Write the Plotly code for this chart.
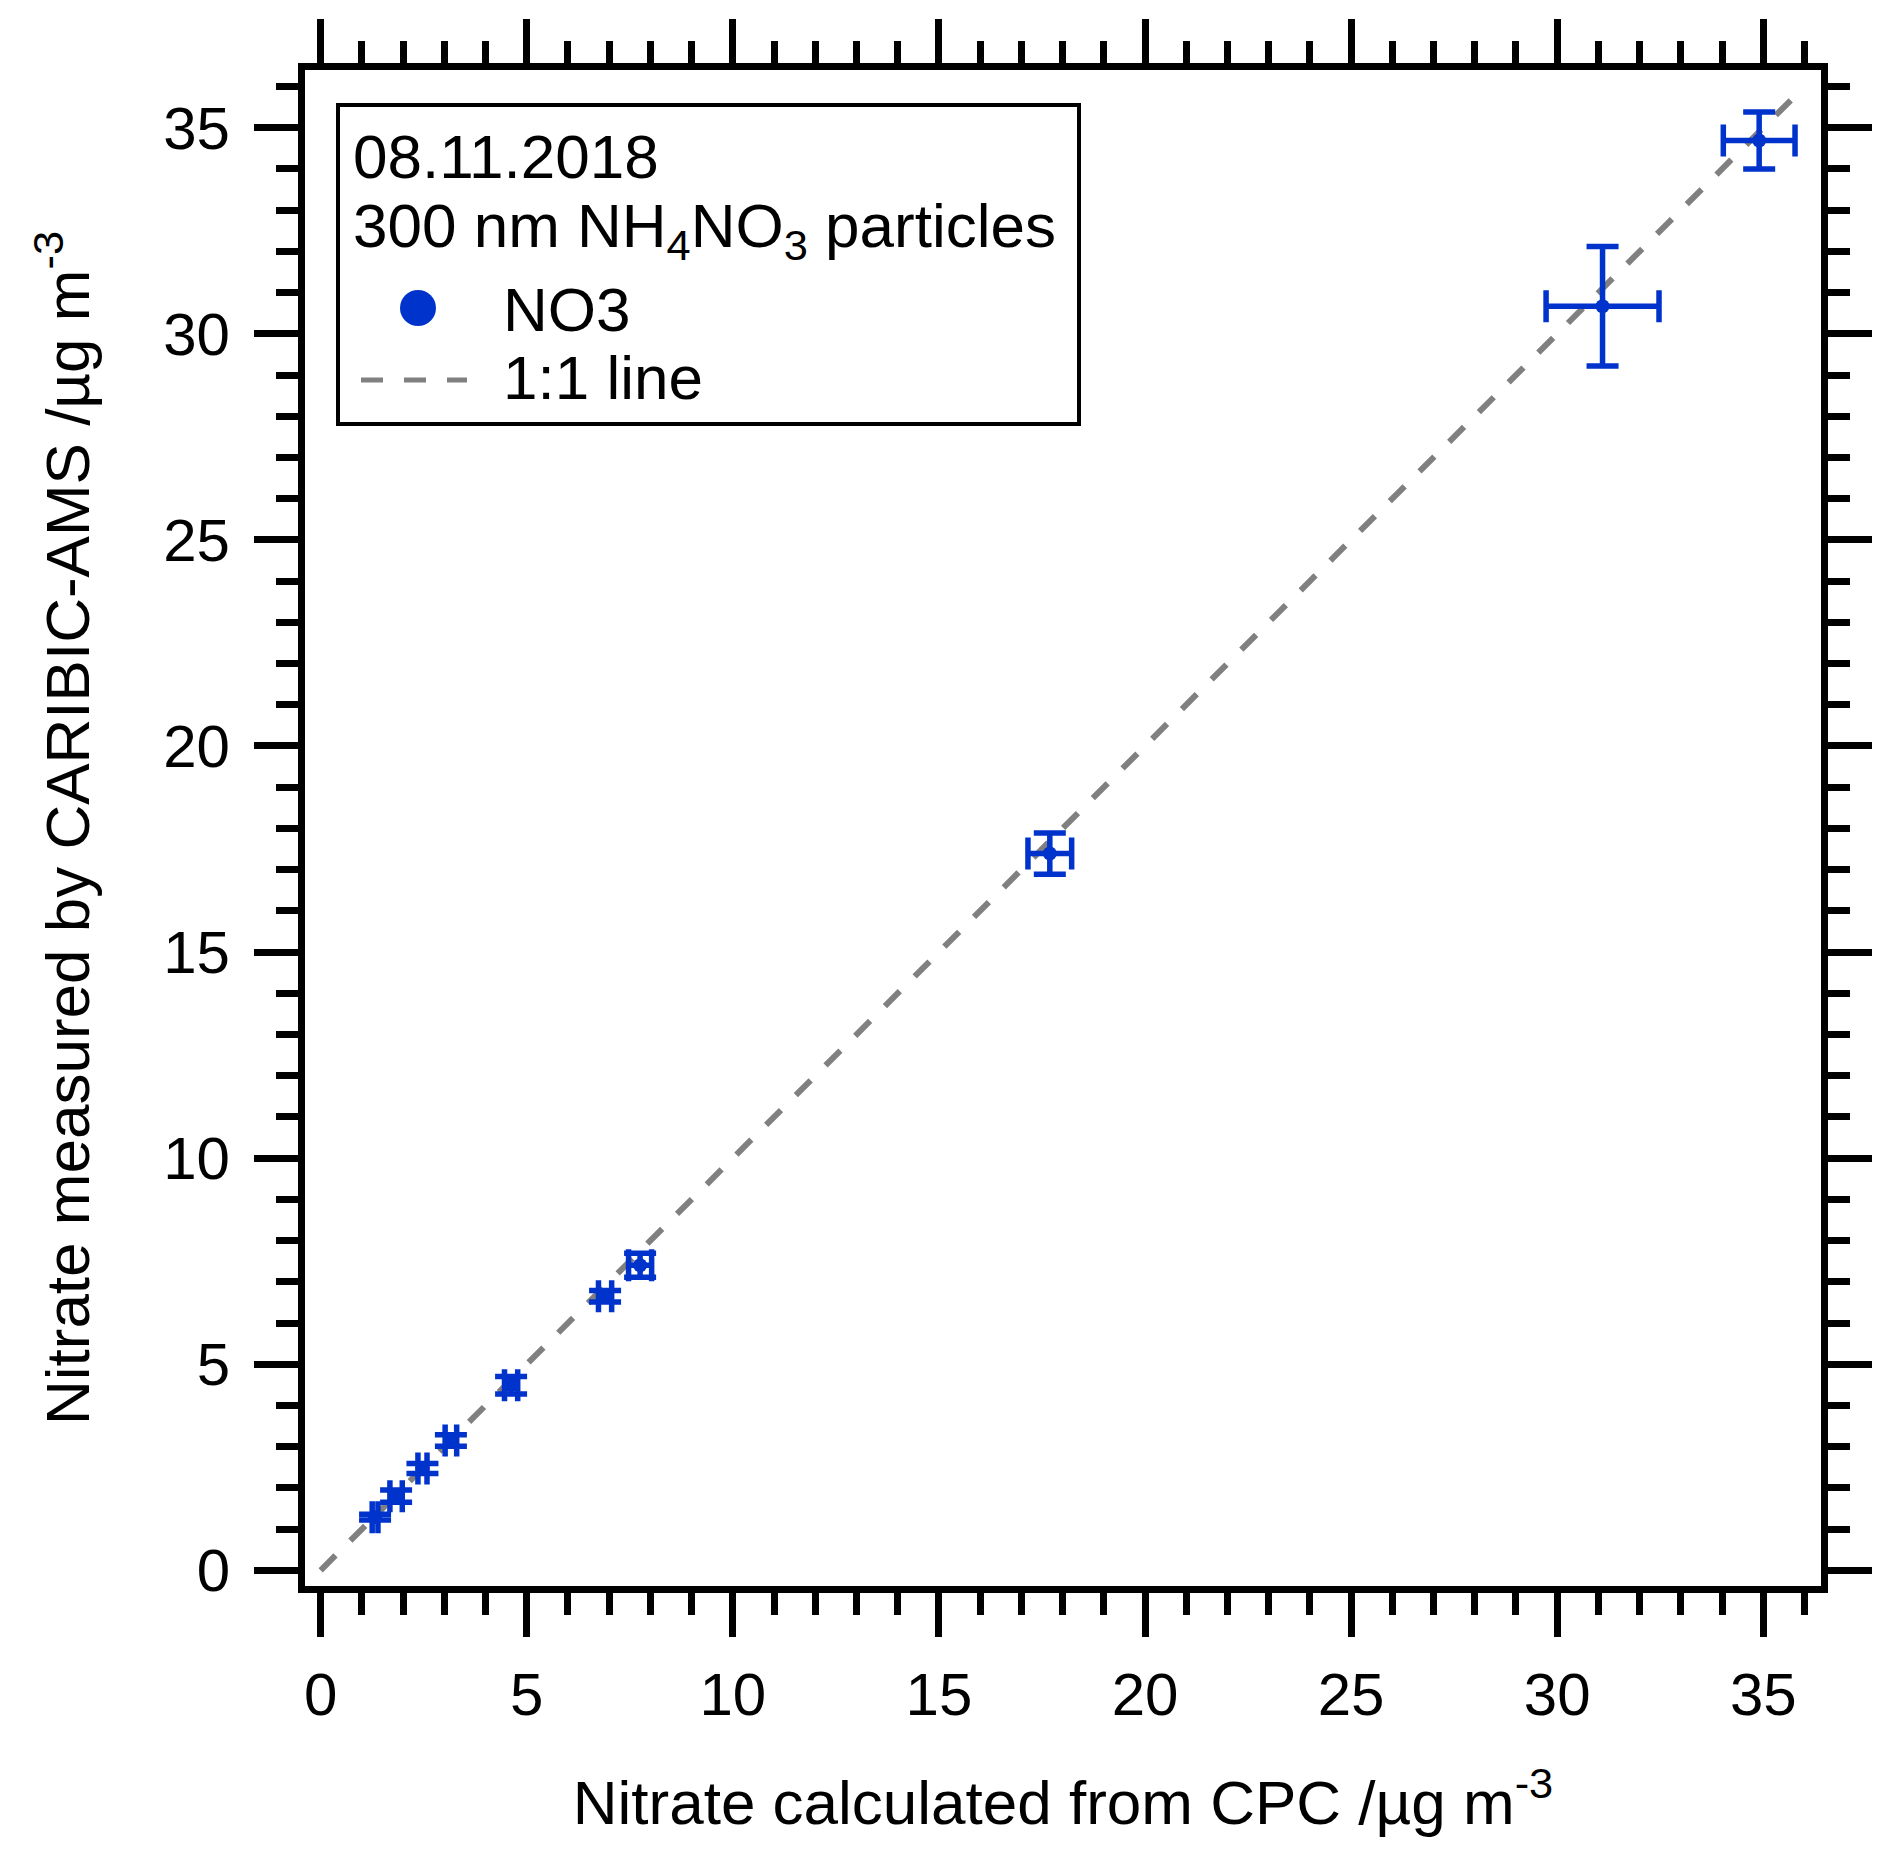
import plotly.graph_objects as go

# nitrate from CPC (x) vs CARIBIC-AMS (y), with errors
x_cpc = [1.32, 1.83, 2.47, 3.16, 4.62, 6.90, 7.75, 17.69, 31.10, 34.90]
y_ams = [1.29, 1.80, 2.47, 3.15, 4.49, 6.65, 7.40, 17.39, 30.67, 34.69]
x_err = [0.07, 0.15, 0.11, 0.14, 0.16, 0.16, 0.28, 0.53, 1.37, 0.87]
y_err = [0.07, 0.15, 0.12, 0.14, 0.21, 0.14, 0.29, 0.50, 1.45, 0.69]

ligne_x = [0, 36]
ligne_y = [0, 36]

bleu = '#0033cc'
gris = '#808080'
police = 'Liberation Sans'

# zone de tracé en pixels (page), la page ajoute 8 px de marge
L, R, T, B = 305, 1821, 70, 1586
W, H = R - L, B - T
M = 8


def px(x, y):
    return (x - L) / W, (B - y) / H


fig = go.Figure()
fig.add_trace(go.Scatter(
    x=ligne_x, y=ligne_y, mode='lines',
    line=dict(color=gris, width=6, dash='21px,21px'),
    showlegend=False, hoverinfo='skip'
))
fig.add_trace(go.Scatter(
    x=x_cpc, y=y_ams, mode='markers',
    marker=dict(color=bleu, size=14),
    error_x=dict(type='data', array=x_err, color=bleu, thickness=5.5, width=16),
    error_y=dict(type='data', array=y_err, color=bleu, thickness=5.5, width=16),
    showlegend=False
))
# trace vide pour faire apparaître les axes du haut et de droite
fig.add_trace(go.Scatter(
    x=[None], y=[None], xaxis='x2', yaxis='y2', mode='markers',
    showlegend=False, hoverinfo='skip'
))

axe = dict(
    range=[-0.38, 36.4], showgrid=False, zeroline=False, automargin=False,
    showline=True, linecolor='black', linewidth=7,
    ticks='outside', ticklen=44, tickwidth=7, tickcolor='black',
    tick0=0, dtick=5,
    minor=dict(ticks='outside', ticklen=22, tickwidth=7, tickcolor='black', dtick=1, tick0=0),
    tickfont=dict(family=police, size=60, color='black'),
)

fig.update_layout(
    width=1892 - M, height=1857 - M,
    margin=dict(l=L - M, r=1892 - R, t=T - M, b=1857 - B),
    plot_bgcolor='white', paper_bgcolor='white',
    font=dict(family=police, size=62, color='black'),
    showlegend=False,
    xaxis=dict(axe, title=dict(text='Nitrate calculated from CPC /µg m<sup>-3</sup>',
                               font=dict(family=police, size=62), standoff=56),
               ticklabelstandoff=6),
    yaxis=dict(axe, title=dict(text='Nitrate measured by CARIBIC-AMS /µg m<sup>-3</sup>',
                               font=dict(family=police, size=62), standoff=56),
               ticklabelstandoff=12),
    xaxis2=dict(axe, overlaying='x', side='top', showticklabels=False),
    yaxis2=dict(axe, overlaying='y', side='right', showticklabels=False),
)

# légende dessinée à la main
x0, y0 = px(338, 105)
x1, y1 = px(1079, 424)
fig.add_shape(type='rect', xref='paper', yref='paper', x0=x0, y0=y1, x1=x1, y1=y0,
              line=dict(color='black', width=4), fillcolor='white', layer='above')
cx0, cy0 = px(400, 290)
cx1, cy1 = px(436, 326)
fig.add_shape(type='circle', xref='paper', yref='paper', x0=cx0, y0=cy1, x1=cx1, y1=cy0,
              line=dict(width=0), fillcolor=bleu, layer='above')
lx0, ly = px(361, 380)
lx1, _ = px(467, 380)
fig.add_shape(type='line', xref='paper', yref='paper', x0=lx0, y0=ly, x1=lx1, y1=ly,
              line=dict(color=gris, width=5, dash='22px,21px'), layer='above')

textes = [
    ('08.11.2018', 351, 157),
    ('300 nm NH<sub>4</sub>NO<sub>3</sub> particles', 351, 230),
    ('NO3', 501, 309),
    ('1:1 line', 501, 378),
]
for t, xp, yp in textes:
    ax_, ay_ = px(xp, yp)
    fig.add_annotation(text=t, xref='paper', yref='paper', x=ax_, y=ay_,
                       xanchor='left', yanchor='middle', showarrow=False,
                       font=dict(family=police, size=62, color='black'))

fig.write_html('out.html')
